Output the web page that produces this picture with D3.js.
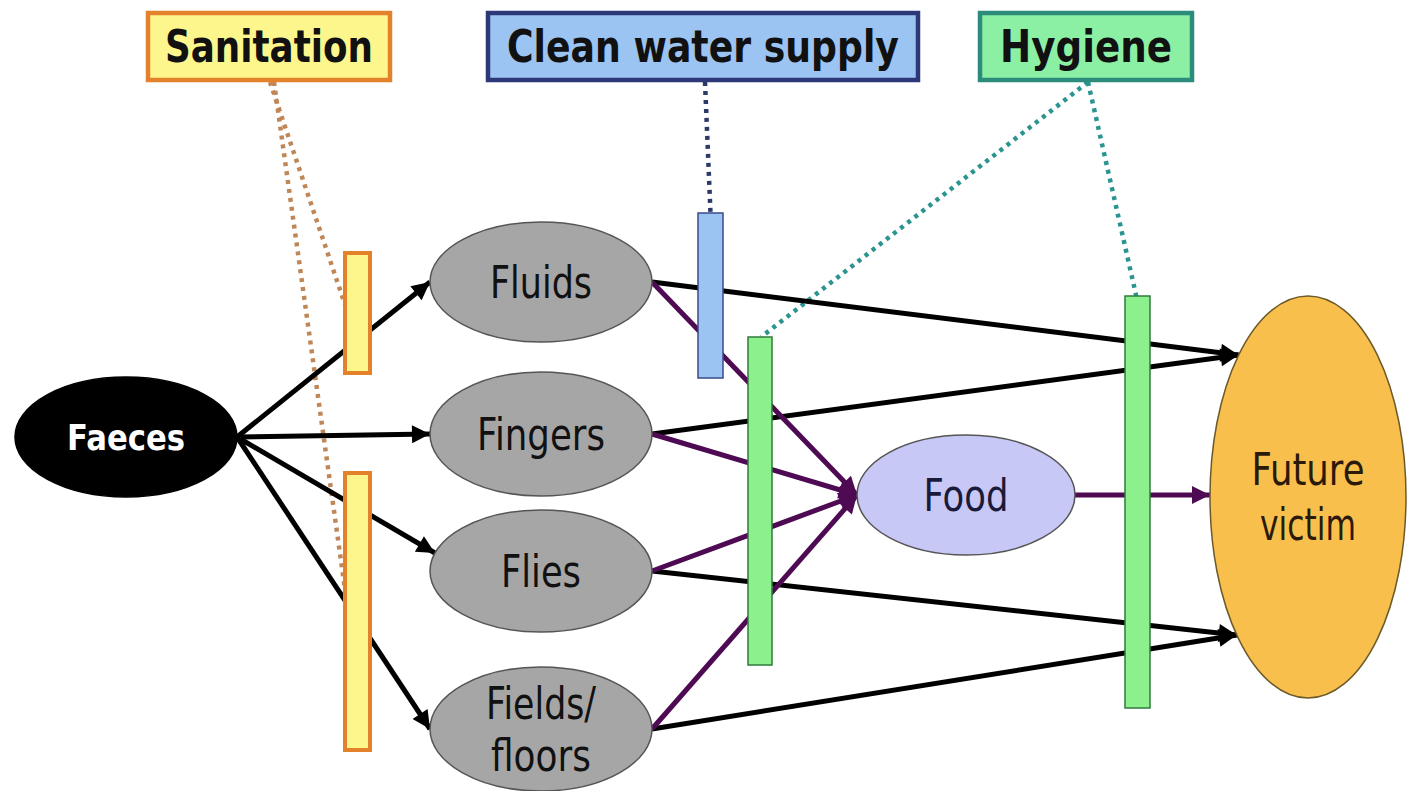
<!DOCTYPE html>
<html>
<head>
<meta charset="utf-8">
<script src="https://cdn.jsdelivr.net/npm/d3@7"></script>
<style>
    body { margin: 0; background: #fff; }
    svg { display: block; }
</style>
</head>
<body>
<svg id="Diagram"></svg>
<script>
// --- data -------------------------------------------------------------
let groups = ["Sanitation", "Clean water supply", "Hygiene"];

let nodes = [
    { id: "faeces", lines: ["Faeces"], kind: "source" },
    { id: "fluids", lines: ["Fluids"], kind: "route" },
    { id: "fingers", lines: ["Fingers"], kind: "route" },
    { id: "flies", lines: ["Flies"], kind: "route" },
    { id: "fields", lines: ["Fields/", "floors"], kind: "route" },
    { id: "food", lines: ["Food"], kind: "food" },
    { id: "victim", lines: ["Future", "victim"], kind: "victim" }
];

let links = [
    { source: "faeces", target: "fluids", type: "direct" },
    { source: "faeces", target: "fingers", type: "direct" },
    { source: "faeces", target: "flies", type: "direct" },
    { source: "faeces", target: "fields", type: "direct" },
    { source: "fluids", target: "victim", type: "direct" },
    { source: "fingers", target: "victim", type: "direct" },
    { source: "flies", target: "victim", type: "direct" },
    { source: "fields", target: "victim", type: "direct" },
    { source: "fluids", target: "food", type: "food" },
    { source: "fingers", target: "food", type: "food" },
    { source: "flies", target: "food", type: "food" },
    { source: "fields", target: "food", type: "food" },
    { source: "food", target: "victim", type: "food" }
];

let barriers = [
    { id: "san1", group: "Sanitation" },
    { id: "san2", group: "Sanitation" },
    { id: "water", group: "Clean water supply" },
    { id: "hyg1", group: "Hygiene" },
    { id: "hyg2", group: "Hygiene" }
];

// --- layout (diagram units) -------------------------------------------
let nodeLayout = {
    faeces:  { cx: 126, cy: 437, rx: 111, ry: 60, size: 36, widths: [118] },
    fluids:  { cx: 541, cy: 282, rx: 111, ry: 60, size: 44, widths: [102] },
    fingers: { cx: 541, cy: 434, rx: 111, ry: 62, size: 44, widths: [128] },
    flies:   { cx: 541, cy: 571, rx: 111, ry: 61, size: 44, widths: [80] },
    fields:  { cx: 541, cy: 729, rx: 111, ry: 62, size: 44, widths: [110, 100], gap: 52 },
    food:    { cx: 966, cy: 495, rx: 109, ry: 60, size: 44, widths: [85] },
    victim:  { cx: 1308, cy: 497, rx: 98, ry: 201, size: 44, widths: [113, 96], gap: 55 }
};

// vertical offset of the arrow tip on the target ellipse
let targetPort = {
    "faeces>flies": -18,
    "fluids>victim": -142, "fingers>victim": -142,
    "flies>victim": 138, "fields>victim": 138,
    "food>victim": -2
};

let groupLayout = {
    "Sanitation":         { x: 148, y: 13, w: 242, h: 67, textW: 208, fill: "#fdf68c", stroke: "#e4822c", dot: "#bf8758" },
    "Clean water supply": { x: 488, y: 13, w: 430, h: 67, textW: 392, fill: "#9cc4f2", stroke: "#2c3878", dot: "#2c3a68" },
    "Hygiene":            { x: 980, y: 13, w: 212, h: 67, textW: 172, fill: "#8cf0a4", stroke: "#2b8c7c", dot: "#2a9490" }
};

let barrierLayout = {
    san1:  { x: 345, y: 253, w: 25, h: 120, from: [270, 82], to: [0, 0.43] },
    san2:  { x: 345, y: 473, w: 25, h: 277, from: [274, 82], to: [0, 0.42] },
    water: { x: 698, y: 213, w: 25, h: 165, from: [705, 82], to: [0.5, 0] },
    hyg1:  { x: 748, y: 337, w: 24, h: 328, from: [1088, 82], to: [0.55, 0] },
    hyg2:  { x: 1125, y: 296, w: 25, h: 412, from: [1088, 82], to: [0.45, 0] }
};

let barrierStyle = {
    "Sanitation":         { fill: "#fdf68c", stroke: "#e4822c", width: 4 },
    "Clean water supply": { fill: "#9cc4f2", stroke: "#3a4a8a", width: 1.5 },
    "Hygiene":            { fill: "#8cf08c", stroke: "#2f7a3c", width: 1.5 }
};

let nodeStyle = {
    source: { fill: "#000", stroke: "#000", text: "#fff", weight: "bold" },
    route:  { fill: "#a6a6a6", stroke: "#555", text: "#111", weight: "normal" },
    food:   { fill: "#c8c8f6", stroke: "#555", text: "#1a1a3a", weight: "normal" },
    victim: { fill: "#f8bf4c", stroke: "#6b5a2a", text: "#2a1a0a", weight: "normal" }
};

let linkColor = { direct: "#000", food: "#4e0a52" };

// --- drawing ----------------------------------------------------------
function getConfig() {
    let width = 1408;
    let height = 791;
    let container = d3.select("#Diagram")
        .attr("width", width)
        .attr("height", height);
    let x = d3.scaleLinear().domain([0, 1408]).range([0, width]);
    let y = d3.scaleLinear().domain([0, 791]).range([0, height]);
    return { width, height, container, x, y };
}

function addMarkers(config) {
    let defs = config.container.append("defs");
    Object.keys(linkColor).forEach(type => {
        defs.append("marker")
            .attr("id", "arrow-" + type)
            .attr("viewBox", "0 0 10 10")
            .attr("refX", 10)
            .attr("refY", 5)
            .attr("markerUnits", "userSpaceOnUse")
            .attr("markerWidth", 24)
            .attr("markerHeight", 18)
            .attr("orient", "auto")
            .append("path")
            .attr("d", "M0,0 L10,5 L0,10 z")
            .attr("fill", linkColor[type]);
    });
}

function linkEnds(d) {
    let s = nodeLayout[d.source];
    let t = nodeLayout[d.target];
    let dy = targetPort[d.source + ">" + d.target] || 0;
    let tx = t.cx - t.rx * Math.sqrt(1 - (dy / t.ry) * (dy / t.ry));
    return { x1: s.cx + s.rx, y1: s.cy, x2: tx, y2: t.cy + dy };
}

function drawLinks(config) {
    let { container, x, y } = config;
    container.append("g").selectAll("line")
        .data(links)
        .enter().append("line")
        .attr("x1", d => x(linkEnds(d).x1))
        .attr("y1", d => y(linkEnds(d).y1))
        .attr("x2", d => x(linkEnds(d).x2))
        .attr("y2", d => y(linkEnds(d).y2))
        .attr("stroke", d => linkColor[d.type])
        .attr("stroke-width", 5)
        .attr("marker-end", d => `url(#arrow-${d.type})`);
}

function drawDotted(config) {
    let { container, x, y } = config;
    container.append("g").selectAll("line")
        .data(barriers)
        .enter().append("line")
        .attr("x1", d => x(barrierLayout[d.id].from[0]))
        .attr("y1", d => y(barrierLayout[d.id].from[1]))
        .attr("x2", d => {
            let b = barrierLayout[d.id];
            return x(b.x + b.w * b.to[0]);
        })
        .attr("y2", d => {
            let b = barrierLayout[d.id];
            return y(b.y + b.h * b.to[1]);
        })
        .attr("stroke", d => groupLayout[d.group].dot)
        .attr("stroke-width", 4.5)
        .attr("stroke-dasharray", "4 5");
}

function drawNodes(config) {
    let { container, x, y } = config;
    let g = container.append("g").selectAll("g")
        .data(nodes)
        .enter().append("g");

    g.append("ellipse")
        .attr("cx", d => x(nodeLayout[d.id].cx))
        .attr("cy", d => y(nodeLayout[d.id].cy))
        .attr("rx", d => nodeLayout[d.id].rx)
        .attr("ry", d => nodeLayout[d.id].ry)
        .attr("fill", d => nodeStyle[d.kind].fill)
        .attr("stroke", d => nodeStyle[d.kind].stroke)
        .attr("stroke-width", 1.5);

    g.each(function (d) {
        let l = nodeLayout[d.id];
        let n = d.lines.length;
        let gap = l.gap || 0;
        d3.select(this).selectAll("text")
            .data(d.lines)
            .enter().append("text")
            .attr("x", x(l.cx))
            .attr("y", (t, i) => y(l.cy + (i - (n - 1) / 2) * gap))
            .attr("text-anchor", "middle")
            .attr("dominant-baseline", "central")
            .attr("font-family", "'DejaVu Sans', Verdana, sans-serif")
            .attr("font-size", l.size)
            .attr("font-weight", nodeStyle[d.kind].weight)
            .attr("fill", nodeStyle[d.kind].text)
            .attr("textLength", (t, i) => l.widths[i])
            .attr("lengthAdjust", "spacingAndGlyphs")
            .text(t => t);
    });
}

function drawBarriers(config) {
    let { container, x, y } = config;
    container.append("g").selectAll("rect")
        .data(barriers)
        .enter().append("rect")
        .attr("x", d => x(barrierLayout[d.id].x))
        .attr("y", d => y(barrierLayout[d.id].y))
        .attr("width", d => barrierLayout[d.id].w)
        .attr("height", d => barrierLayout[d.id].h)
        .attr("fill", d => barrierStyle[d.group].fill)
        .attr("stroke", d => barrierStyle[d.group].stroke)
        .attr("stroke-width", d => barrierStyle[d.group].width);
}

function drawGroupLabels(config) {
    let { container, x, y } = config;
    let g = container.append("g").selectAll("g")
        .data(groups)
        .enter().append("g");

    g.append("rect")
        .attr("x", d => x(groupLayout[d].x))
        .attr("y", d => y(groupLayout[d].y))
        .attr("width", d => groupLayout[d].w)
        .attr("height", d => groupLayout[d].h)
        .attr("fill", d => groupLayout[d].fill)
        .attr("stroke", d => groupLayout[d].stroke)
        .attr("stroke-width", 4.5);

    g.append("text")
        .attr("x", d => x(groupLayout[d].x + groupLayout[d].w / 2))
        .attr("y", d => y(groupLayout[d].y + groupLayout[d].h / 2))
        .attr("text-anchor", "middle")
        .attr("dominant-baseline", "central")
        .attr("font-family", "'DejaVu Sans', Verdana, sans-serif")
        .attr("font-weight", "bold")
        .attr("font-size", 44)
        .attr("fill", "#111")
        .attr("textLength", d => groupLayout[d].textW)
        .attr("lengthAdjust", "spacingAndGlyphs")
        .text(d => d);
}

function showDiagram() {
    let config = getConfig();
    addMarkers(config);
    drawDotted(config);
    drawLinks(config);
    drawNodes(config);
    drawBarriers(config);
    drawGroupLabels(config);
}

showDiagram();
</script>
</body>
</html>
